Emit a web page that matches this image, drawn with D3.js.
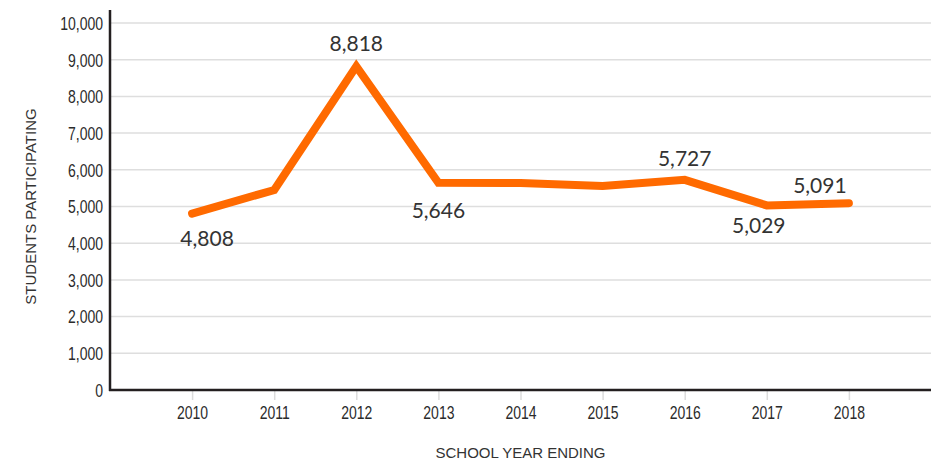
<!DOCTYPE html>
<html>
<head>
<meta charset="utf-8">
<script src="https://cdn.jsdelivr.net/npm/d3@7"></script>
<style>
  body { margin: 0; background: #fff; }
</style>
</head>
<body>
<script>
// valori
const years = [2010, 2011, 2012, 2013, 2014, 2015, 2016, 2017, 2018];
const students = [4808, 5450, 8818, 5646, 5640, 5560, 5727, 5029, 5091];
const yTicks = [0, 1000, 2000, 3000, 4000, 5000, 6000, 7000, 8000, 9000, 10000];
const labelYears = [2010, 2012, 2013, 2016, 2017, 2018];

// spostamento delle etichette rispetto al punto
const labelOffset = {
  2010: [15, 32], 2012: [0, -15], 2013: [0, 35],
  2016: [0, -14], 2017: [-8, 28], 2018: [-29, -10]
};

const W = 939, H = 460;
const margin = {top: 23, right: 8, bottom: 70, left: 110};
const narrow = 0.8; // compressione orizzontale dei numeri degli assi

const svg = d3.select('body').append('svg')
    .attr('width', W)
    .attr('height', H);

const x = d3.scalePoint()
    .domain(years)
    .range([margin.left, W - margin.right])
    .padding(1);

const y = d3.scaleLinear()
    .domain([0, 10000])
    .range([H - margin.bottom, margin.top]);

// griglia
svg.append('g')
   .selectAll('line')
   .data(yTicks.filter(d => d > 0))
   .enter().append('line')
   .attr('x1', margin.left)
   .attr('x2', W - margin.right)
   .attr('y1', d => y(d))
   .attr('y2', d => y(d))
   .attr('stroke', '#dedede')
   .attr('stroke-width', 1.5);

// asse y
const yAxis = svg.append('g')
   .attr('transform', 'translate(' + margin.left + ',0)')
   .call(d3.axisLeft(y).tickValues(yTicks).tickFormat(d3.format(',')).tickSize(0).tickPadding(7));
yAxis.select('.domain').remove();
yAxis.selectAll('text')
   .attr('font-family', '"Liberation Sans", Arial, sans-serif')
   .attr('font-size', 17.5)
   .attr('fill', '#2b2b2b')
   .attr('x', -7 / narrow)
   .attr('dy', '0.36em')
   .attr('transform', 'scale(' + narrow + ',1)');

// asse x
const xAxis = svg.append('g')
   .attr('transform', 'translate(0,' + y(0) + ')')
   .call(d3.axisBottom(x).tickSize(10).tickPadding(6));
xAxis.select('.domain').remove();
xAxis.selectAll('.tick line').attr('stroke', '#dcdcdc').attr('stroke-width', 1.5);
xAxis.selectAll('text')
   .attr('font-family', '"Liberation Sans", Arial, sans-serif')
   .attr('font-size', 17.5)
   .attr('fill', '#2b2b2b')
   .attr('y', 17)
   .attr('transform', 'scale(' + narrow + ',1)');

svg.append('line')
   .attr('x1', margin.left).attr('x2', margin.left)
   .attr('y1', 10).attr('y2', y(0) + 1)
   .attr('stroke', '#231f20').attr('stroke-width', 2.5);

svg.append('line')
   .attr('x1', margin.left - 1).attr('x2', W - margin.right)
   .attr('y1', y(0)).attr('y2', y(0))
   .attr('stroke', '#231f20').attr('stroke-width', 2.5);

// linea
const line = d3.line()
    .x((d, i) => x(years[i]))
    .y(d => y(d));

svg.append('path')
   .datum(students)
   .attr('d', line)
   .attr('fill', 'none')
   .attr('stroke', '#ff6a00')
   .attr('stroke-width', 8)
   .attr('stroke-linejoin', 'miter')
   .attr('stroke-linecap', 'round');

// etichette dei valori
svg.append('g')
   .selectAll('text')
   .data(labelYears)
   .enter().append('text')
   .attr('x', d => x(d) + labelOffset[d][0])
   .attr('y', d => y(students[years.indexOf(d)]) + labelOffset[d][1])
   .attr('text-anchor', 'middle')
   .attr('font-family', 'Lato, "Open Sans", sans-serif')
   .attr('font-size', 21)
   .attr('fill', '#333')
   .text(d => d3.format(',')(students[years.indexOf(d)]));

// titoli
svg.append('text')
   .attr('transform', 'translate(36,' + ((margin.top + y(0)) / 2) + ') rotate(-90)')
   .attr('text-anchor', 'middle')
   .attr('font-family', '"Liberation Sans", Arial, sans-serif')
   .attr('font-size', 15)
   .attr('fill', '#333')
   .text('STUDENTS PARTICIPATING');

svg.append('text')
   .attr('x', (margin.left + W - margin.right) / 2)
   .attr('y', 458)
   .attr('text-anchor', 'middle')
   .attr('font-family', '"Liberation Sans", Arial, sans-serif')
   .attr('font-size', 15)
   .attr('fill', '#333')
   .text('SCHOOL YEAR ENDING');
</script>
</body>
</html>
